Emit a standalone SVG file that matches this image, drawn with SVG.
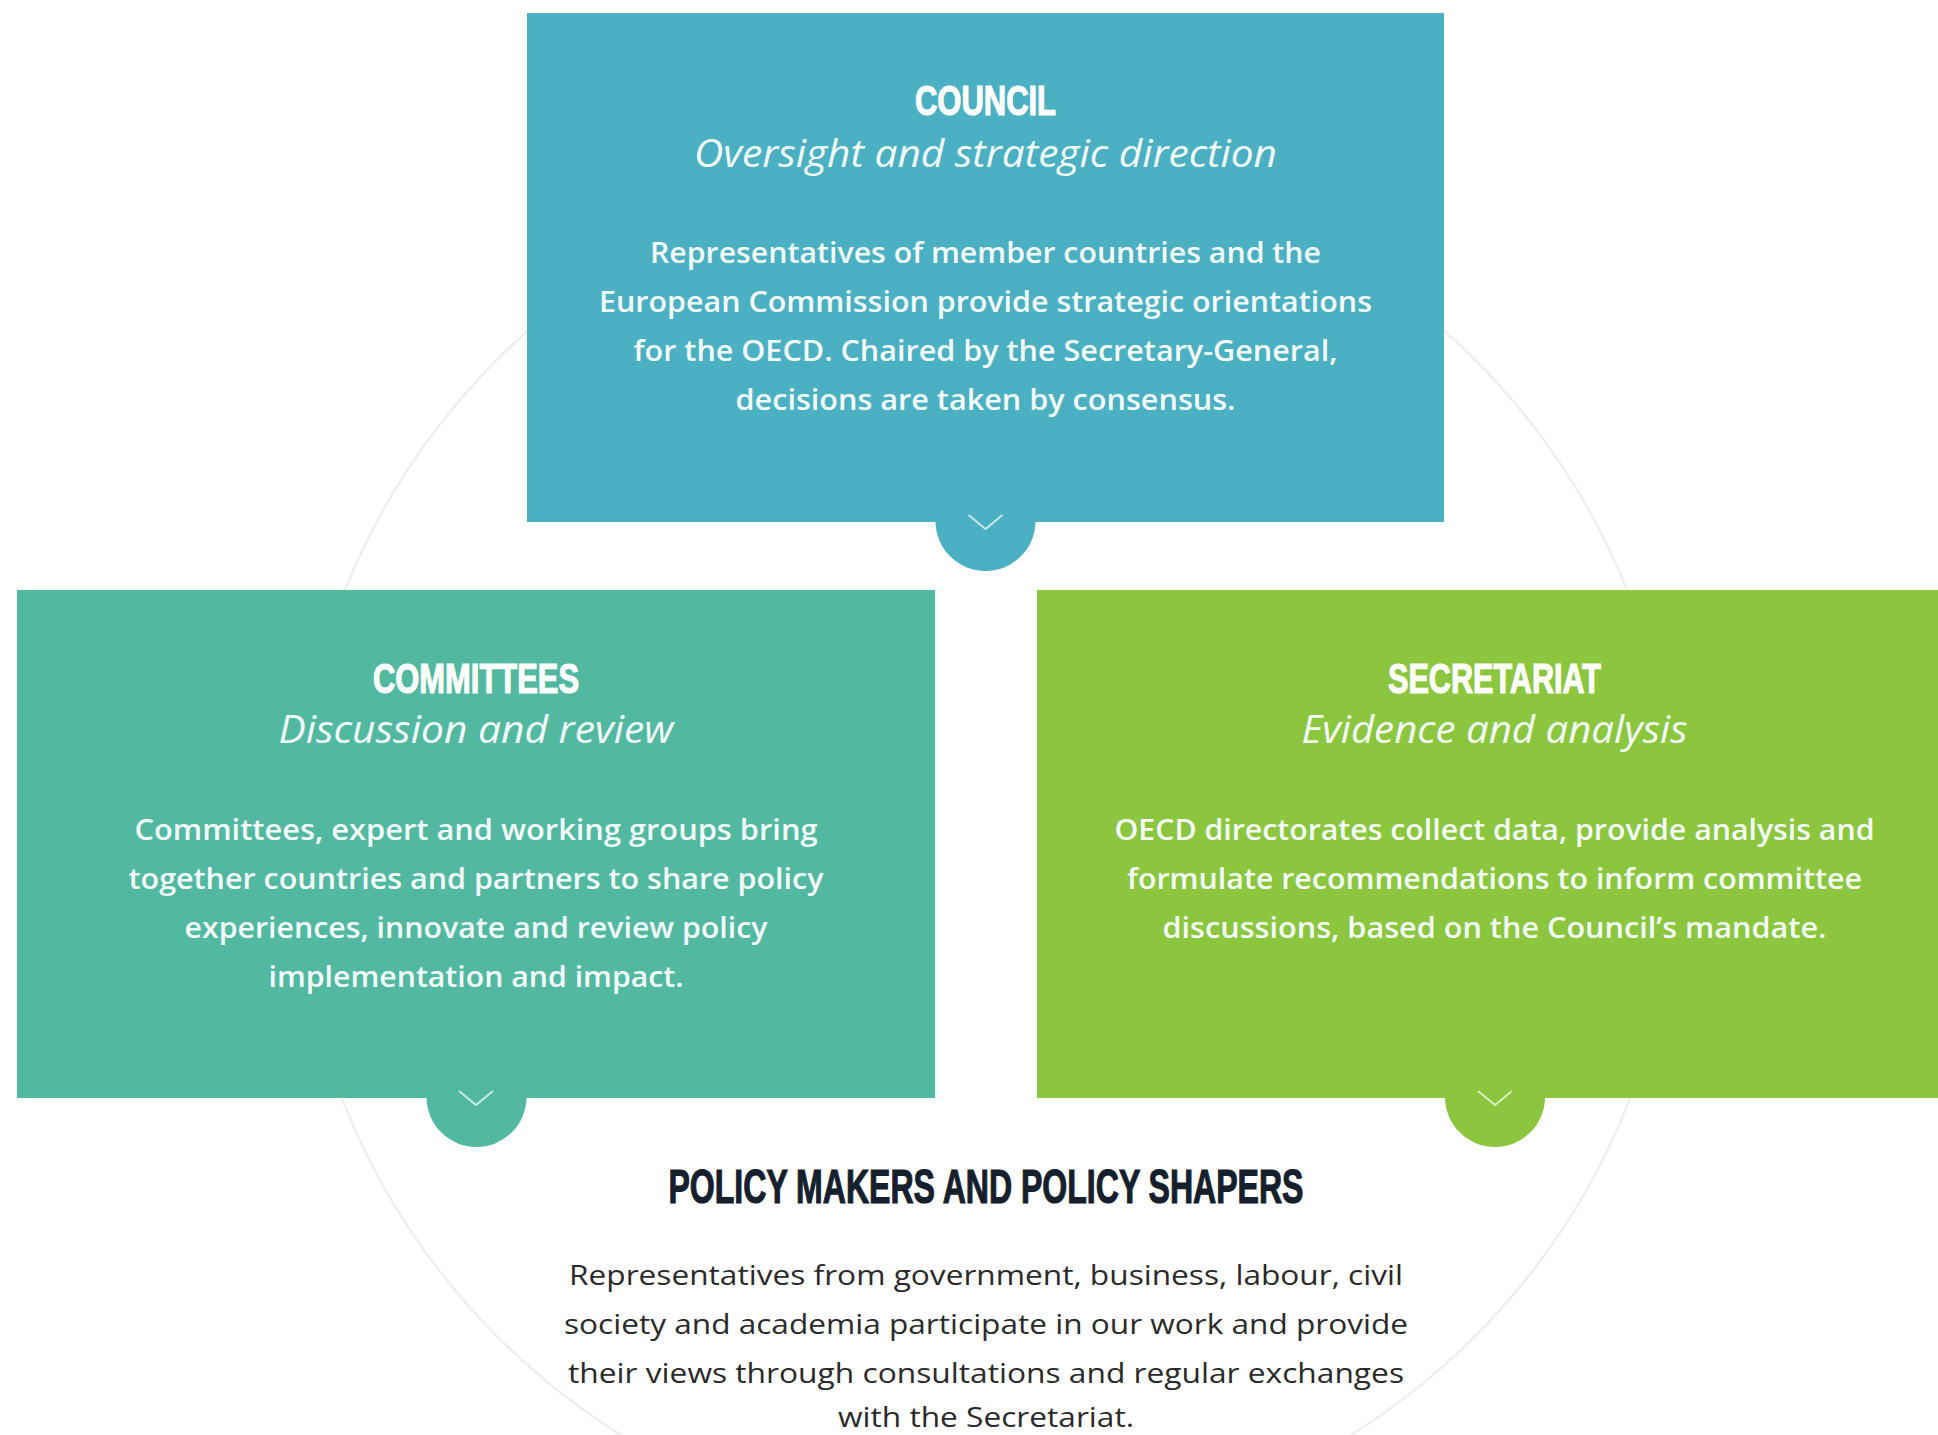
<svg xmlns="http://www.w3.org/2000/svg" width="1938" height="1435" viewBox="0 0 1938 1435">
  <style>
    .title { font-family: "Liberation Sans", Arial, sans-serif; font-weight: bold; font-size: 42px; fill: #ffffff; stroke: #ffffff; stroke-width: 1.2; text-anchor: middle; }
    .ptitle { font-family: "Liberation Sans", Arial, sans-serif; font-weight: bold; font-size: 48px; fill: #15202c; stroke: #15202c; stroke-width: 1.2; text-anchor: middle; }
    .sub { font-family: "Open Sans", "Noto Sans", sans-serif; font-style: italic; font-size: 38px; fill: #f4fbfb; text-anchor: middle; }
    .body { font-family: "Open Sans", "Noto Sans", sans-serif; font-weight: 600; font-size: 28px; fill: #f4fbfb; text-anchor: middle; }
    .pbody { font-family: "Open Sans", "Noto Sans", sans-serif; font-size: 28px; fill: #2a2a2a; text-anchor: middle; }
    .chev { fill: none; stroke: #ffffff; stroke-opacity: 0.7; stroke-width: 2; }
  </style>
  <rect width="1938" height="1435" fill="#ffffff"/>

  <g id="connectors">
    <circle cx="986" cy="848" r="691" fill="none" stroke="#eeeeee" stroke-width="2.5"/>
  </g>

  <g id="council">
    <rect x="527" y="13" width="917" height="509" fill="#4bb0c1"/>
    <path d="M935.5,521 A50,50 0 0 0 1035.5,521 Z" fill="#4bb0c1"/>
    <polyline class="chev" points="968.5,515 985.5,529 1002.5,515"/>
    <text class="title" x="985.5" y="115" textLength="141" lengthAdjust="spacingAndGlyphs">COUNCIL</text>
    <text class="sub" x="985.5" y="167" textLength="583" lengthAdjust="spacingAndGlyphs">Oversight and strategic direction</text>
    <text class="body" x="985.5" y="263" textLength="671" lengthAdjust="spacingAndGlyphs">Representatives of member countries and the</text>
    <text class="body" x="985.5" y="312" textLength="773" lengthAdjust="spacingAndGlyphs">European Commission provide strategic orientations</text>
    <text class="body" x="985.5" y="361" textLength="704" lengthAdjust="spacingAndGlyphs">for the OECD. Chaired by the Secretary-General,</text>
    <text class="body" x="985.5" y="410" textLength="500" lengthAdjust="spacingAndGlyphs">decisions are taken by consensus.</text>
  </g>

  <g id="committees">
    <rect x="17" y="590" width="918" height="508" fill="#52b9a0"/>
    <path d="M426.5,1097 A50,50 0 0 0 526.5,1097 Z" fill="#52b9a0"/>
    <polyline class="chev" points="459,1091 476,1105 493,1091"/>
    <text class="title" x="476" y="693" textLength="206" lengthAdjust="spacingAndGlyphs">COMMITTEES</text>
    <text class="sub" x="476" y="743" textLength="395" lengthAdjust="spacingAndGlyphs">Discussion and review</text>
    <text class="body" x="476" y="840" textLength="683" lengthAdjust="spacingAndGlyphs">Committees, expert and working groups bring</text>
    <text class="body" x="476" y="889" textLength="695" lengthAdjust="spacingAndGlyphs">together countries and partners to share policy</text>
    <text class="body" x="476" y="938" textLength="583" lengthAdjust="spacingAndGlyphs">experiences, innovate and review policy</text>
    <text class="body" x="476" y="987" textLength="415" lengthAdjust="spacingAndGlyphs">implementation and impact.</text>
  </g>

  <g id="secretariat">
    <rect x="1037" y="590" width="916" height="508" fill="#8cc63f"/>
    <path d="M1445,1097 A50,50 0 0 0 1545,1097 Z" fill="#8cc63f"/>
    <polyline class="chev" points="1478,1091 1495,1105 1512,1091"/>
    <text class="title" x="1494.5" y="693" textLength="213" lengthAdjust="spacingAndGlyphs">SECRETARIAT</text>
    <text class="sub" x="1494.5" y="743" textLength="386" lengthAdjust="spacingAndGlyphs">Evidence and analysis</text>
    <text class="body" x="1494.5" y="840" textLength="760" lengthAdjust="spacingAndGlyphs">OECD directorates collect data, provide analysis and</text>
    <text class="body" x="1494.5" y="889" textLength="735" lengthAdjust="spacingAndGlyphs">formulate recommendations to inform committee</text>
    <text class="body" x="1494.5" y="938" textLength="664" lengthAdjust="spacingAndGlyphs">discussions, based on the Council’s mandate.</text>
  </g>

  <g id="policy-makers">
    <text class="ptitle" x="986" y="1203" textLength="635" lengthAdjust="spacingAndGlyphs">POLICY MAKERS AND POLICY SHAPERS</text>
    <text class="pbody" x="986" y="1285" textLength="834" lengthAdjust="spacingAndGlyphs">Representatives from government, business, labour, civil</text>
    <text class="pbody" x="986" y="1334" textLength="844" lengthAdjust="spacingAndGlyphs">society and academia participate in our work and provide</text>
    <text class="pbody" x="986" y="1383" textLength="836" lengthAdjust="spacingAndGlyphs">their views through consultations and regular exchanges</text>
    <text class="pbody" x="986" y="1427" textLength="296" lengthAdjust="spacingAndGlyphs">with the Secretariat.</text>
  </g>
</svg>
